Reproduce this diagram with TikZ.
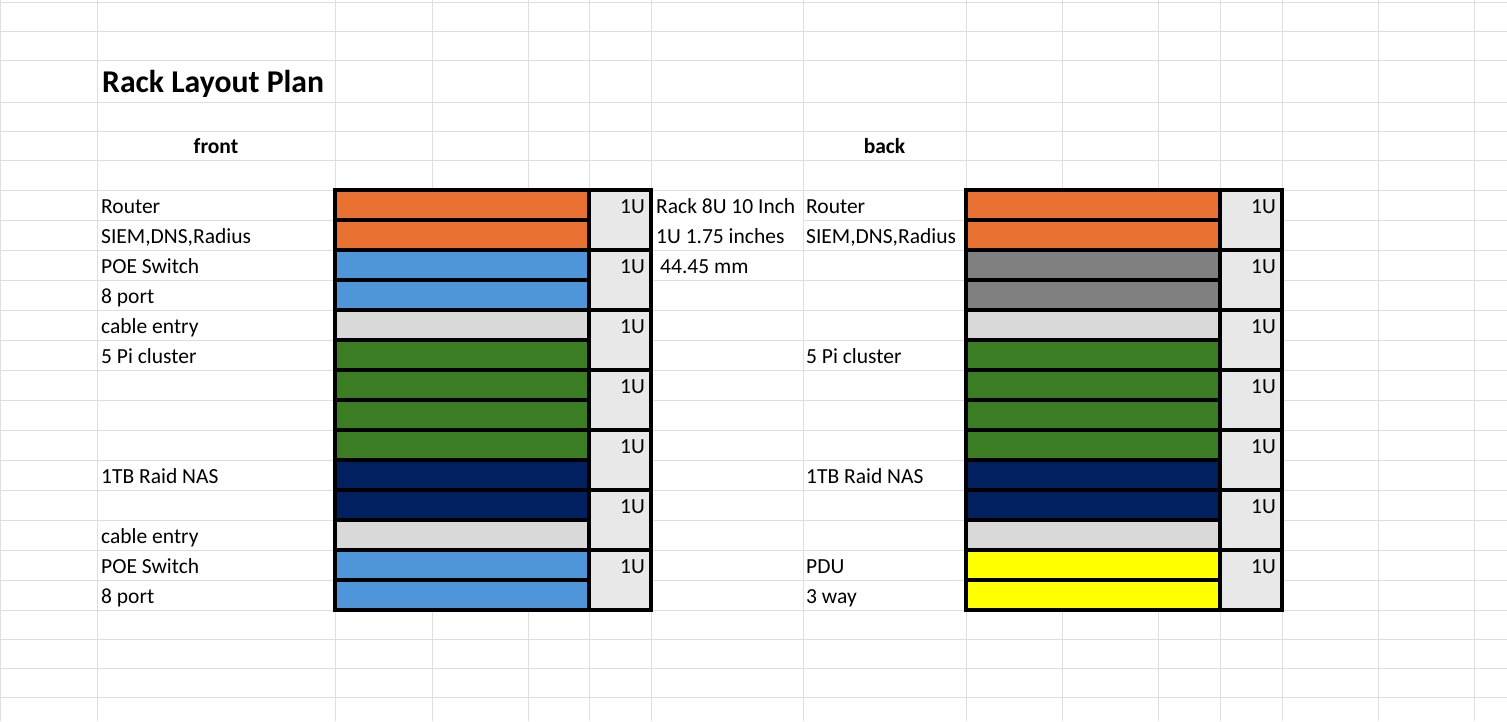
\documentclass[tikz,border=0pt]{standalone}
\usepackage{fontspec}
\setmainfont{Carlito}
\definecolor{gridgray}{RGB}{222,222,222}
\definecolor{routerorange}{RGB}{233,113,50}
\definecolor{poeblue}{RGB}{78,149,217}
\definecolor{cablegray}{RGB}{217,217,217}
\definecolor{pigreen}{RGB}{59,125,35}
\definecolor{nasnavy}{RGB}{0,32,96}
\definecolor{unitgray}{RGB}{232,232,232}
\definecolor{midgray}{RGB}{128,128,128}
\definecolor{pduyellow}{RGB}{255,255,0}
\begin{document}
\begin{tikzpicture}[x=1pt,y=-1pt,
  grid/.style={draw=gridgray,line width=1pt},
  cellborder/.style={draw=black,line width=3.2pt},
  lbl/.style={anchor=base west,inner sep=0pt,font=\fontsize{21.5}{22}\selectfont},
  unitlbl/.style={anchor=base east,inner sep=0pt,font=\fontsize{21.5}{22}\selectfont},
  hdr/.style={anchor=base,inner sep=0pt,font=\fontsize{21.5}{22}\selectfont\bfseries},
  titlefont/.style={anchor=base west,inner sep=0pt,font=\fontsize{31.7}{32}\selectfont\bfseries}]

% sheet background and page frame
\fill[white] (0,0) rectangle (1507,721);
\useasboundingbox (0,0) rectangle (1507,721);

% cell grid
\foreach \gx in {0.5,97,335,432,528,589,651,803,966,1062,1158,1220,1282,1378,1474}
  \draw[grid] (\gx,0) -- (\gx,721);
\foreach \gy in {2,31,60,102,131,160,190,250,280,310,340,370,400,430,460,490,520,550,580,610,639.3,668.6,697.9}
  \draw[grid] (0,\gy) -- (1507,\gy);
\draw[grid] (0,220) -- (651,220);
\draw[grid] (803,220) -- (1507,220);

% front rack: one bar per half unit
\foreach \c [count=\i from 0] in {routerorange,routerorange,poeblue,poeblue,cablegray,pigreen,pigreen,pigreen,pigreen,nasnavy,nasnavy,cablegray,poeblue,poeblue}
  \filldraw[fill=\c,cellborder] (335,{190+30*\i}) rectangle (589,{220+30*\i});
% back rack
\foreach \c [count=\i from 0] in {routerorange,routerorange,midgray,midgray,cablegray,pigreen,pigreen,pigreen,pigreen,nasnavy,nasnavy,cablegray,pduyellow,pduyellow}
  \filldraw[fill=\c,cellborder] (966,{190+30*\i}) rectangle (1220,{220+30*\i});

% unit columns, two rows per unit
\foreach \j in {0,...,6}{
  \filldraw[fill=unitgray,cellborder] (589,{190+60*\j}) rectangle (651,{250+60*\j});
  \filldraw[fill=unitgray,cellborder] (1220,{190+60*\j}) rectangle (1282,{250+60*\j});
  \node[unitlbl] (fu\j) at (645,{213+60*\j}) {1U};
  \node[unitlbl] (bu\j) at (1276,{213+60*\j}) {1U};
}

% headings
\node[titlefont] (title) at (102,92.3) {Rack Layout Plan};
\node[hdr] (front) at (216,153.3) {front};
\node[hdr] (back) at (884.5,153.3) {back};

% front labels
\node[lbl] (f1) at (101,213) {Router};
\node[lbl] (f2) at (101,243) {SIEM,DNS,Radius};
\node[lbl] (f3) at (101,273) {POE Switch};
\node[lbl] (f4) at (101,303) {8 port};
\node[lbl] (f5) at (101,333) {cable entry};
\node[lbl] (f6) at (101,363) {5 Pi cluster};
\node[lbl] (f10) at (101,483) {1TB Raid NAS};
\node[lbl] (f12) at (101,543) {cable entry};
\node[lbl] (f13) at (101,573) {POE Switch};
\node[lbl] (f14) at (101,603) {8 port};

% rack notes
\node[lbl] (n1) at (656,213) {Rack 8U 10 Inch};
\node[lbl] (n2) at (656,243) {1U 1.75 inches};
\node[lbl] (n3) at (660,273) {44.45 mm};

% back labels
\node[lbl] (b1) at (806,213) {Router};
\node[lbl] (b2) at (806,243) {SIEM,DNS,Radius};
\node[lbl] (b6) at (806,363) {5 Pi cluster};
\node[lbl] (b10) at (806,483) {1TB Raid NAS};
\node[lbl] (b13) at (806,573) {PDU};
\node[lbl] (b14) at (806,603) {3 way};
\end{tikzpicture}
\end{document}
